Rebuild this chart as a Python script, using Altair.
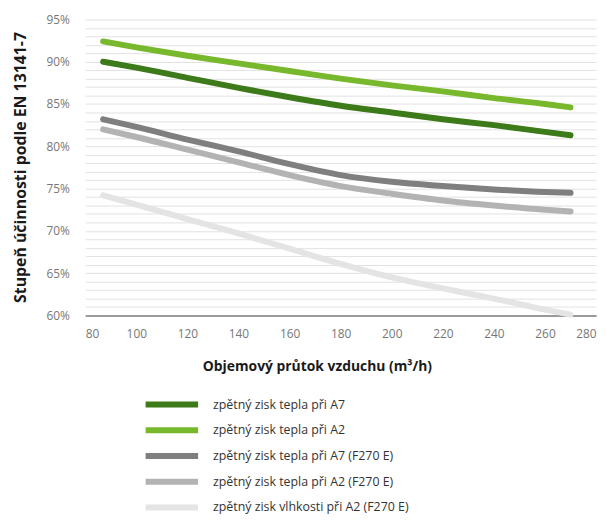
import altair as alt
import pandas as pd

x_vals = [87, 100, 120, 140, 160, 180, 200, 220, 240, 260, 270]
series_names = [
    "zpětný zisk tepla při A7",
    "zpětný zisk tepla při A2",
    "zpětný zisk tepla při A7 (F270 E)",
    "zpětný zisk tepla při A2 (F270 E)",
    "zpětný zisk vlhkosti při A2 (F270 E)",
]
a7 = [90.0, 89.3, 88.1, 86.9, 85.8, 84.8, 84.0, 83.2, 82.5, 81.7, 81.3]
a2 = [92.4, 91.7, 90.7, 89.8, 88.9, 88.0, 87.2, 86.5, 85.7, 85.0, 84.6]
a7_f270 = [83.2, 82.3, 80.8, 79.4, 77.9, 76.6, 75.8, 75.3, 74.9, 74.6, 74.5]
a2_f270 = [82.0, 81.1, 79.6, 78.1, 76.6, 75.3, 74.4, 73.6, 73.0, 72.5, 72.3]
hum_f270 = [74.2, 73.1, 71.4, 69.7, 67.9, 66.1, 64.5, 63.2, 62.0, 60.7, 60.1]
colors = ["#3d7a19", "#77b82c", "#7f7f7f", "#b3b3b3", "#e4e4e4"]

x_ticks = [80, 100, 120, 140, 160, 180, 200, 220, 240, 260, 280]
y_ticks = list(range(60, 96))

all_series = [a7, a2, a7_f270, a2_f270, hum_f270]
rows = []
for name, vals in zip(series_names, all_series):
    for xv, yv in zip(x_vals, vals):
        rows.append({"flow": xv, "eff": yv, "series": name})
df = pd.DataFrame(rows)

label_font = "'Open Sans', sans-serif"
title_font = "'Open Sans', sans-serif"

chart = alt.Chart(df).mark_line(
    strokeWidth=6, strokeCap="round", strokeJoin="round", interpolate="monotone"
).encode(
    x=alt.X(
        "flow:Q",
        scale=alt.Scale(domain=[80, 280], nice=False, zero=False),
        axis=alt.Axis(
            values=x_ticks,
            grid=False,
            ticks=False,
            domain=True,
            domainColor="#9a9a9a",
            domainWidth=2,
            labelColor="#777777",
            labelFont=label_font,
            labelFontSize=12,
            labelPadding=13,
            title="Objemový průtok vzduchu (m³/h)",
            titleFont=title_font,
            titleFontSize=14,
            titleFontWeight="bold",
            titleColor="#1a1a1a",
            titleX=234,
            titleY=52,
            titleAlign="center",
            titleBaseline="middle",
        ),
    ),
    y=alt.Y(
        "eff:Q",
        scale=alt.Scale(domain=[60, 95], nice=False, zero=False),
        axis=alt.Axis(
            values=y_ticks,
            labelExpr="datum.value % 5 == 0 ? datum.value + '%' : ''",
            grid=True,
            gridColor="#e2e2e2",
            gridWidth=1,
            ticks=False,
            domain=False,
            labelColor="#777777",
            labelFont=label_font,
            labelFontSize=12,
            labelPadding=16,
            title="Stupeň účinnosti podle EN 13141-7",
            titleFont=title_font,
            titleFontSize=16,
            titleFontWeight="bold",
            titleColor="#1a1a1a",
            titleX=-65,
            titleY=149,
            titleAlign="center",
            titleBaseline="middle",
            titleAngle=270,
        ),
    ),
    color=alt.Color(
        "series:N",
        scale=alt.Scale(domain=series_names, range=colors),
        sort=series_names,
        legend=alt.Legend(
            title=None,
            orient="none",
            legendX=58,
            legendY=382,
            direction="vertical",
            symbolType="stroke",
            symbolStrokeWidth=6,
            symbolSize=2809,
            symbolOffset=0,
            clipHeight=14,
            rowPadding=12,
            padding=0,
            labelOffset=12,
            labelLimit=0,
            labelFont=label_font,
            labelFontSize=12.5,
            labelColor="#333333",
        ),
    ),
    order=alt.Order("series:N"),
).properties(
    width=516,
    height=299,
    padding={"left": 78, "top": 9, "right": 10, "bottom": 200},
    autosize=alt.AutoSizeParams(type="none"),
).configure_view(stroke=None)

chart.save("out.html", embed_options={"renderer": "svg", "actions": False})
